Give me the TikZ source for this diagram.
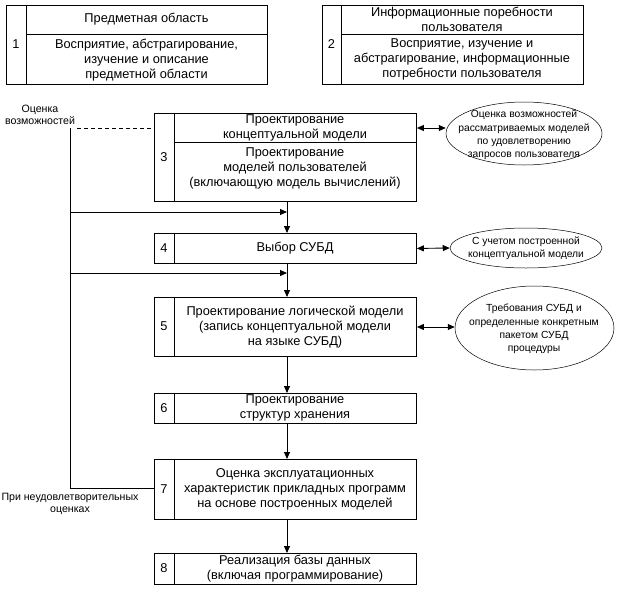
\documentclass[tikz,border=0pt]{standalone}
\usepackage{fontspec}
\setmainfont{Liberation Sans}
\usetikzlibrary{arrows.meta,shapes.geometric,calc}
\begin{document}
\begin{tikzpicture}[x=1pt,y=-1pt,
  box/.style={draw, line width=0.9pt, inner sep=0pt, anchor=north west},
  divl/.style={line width=0.9pt},
  txt/.style={align=center, font=\fontsize{12.8}{15}\selectfont, inner sep=0pt},
  num/.style={font=\fontsize{12.8}{15}\selectfont, inner sep=0pt},
  small/.style={align=center, font=\fontsize{10.3}{13.4}\selectfont, inner sep=0pt},
  lbl/.style={align=center, font=\fontsize{10.6}{12}\selectfont, inner sep=0pt},
  ell/.style={ellipse, draw, line width=0.5pt, inner sep=0pt},
  arr/.style={line width=0.9pt, -{Triangle[length=7pt,width=6pt]}},
  biarr/.style={line width=0.9pt, {Triangle[length=7pt,width=6pt]}-{Triangle[length=7pt,width=6pt]}},
  ln/.style={line width=0.9pt}]
\useasboundingbox (0,0) rectangle (619,592);

% Box 1
\node[box, minimum width=261pt, minimum height=79pt] (b1) at (6,5) {};
\draw[divl] (26,5) -- (26,84);
\draw[divl] (26,34) -- (267,34);
\node[num] (n1) at (16,44.5) {1};
\node[txt] (t1a) at (146.5,19.5) {Предметная область};
\node[txt] (t1b) at (146.5,60) {Восприятие, абстрагирование,\\изучение и описание\\предметной области};

% Box 2
\node[box, minimum width=261pt, minimum height=79pt] (b2) at (322,5) {};
\draw[divl] (341,5) -- (341,84);
\draw[divl] (341,34) -- (583,34);
\node[num] (n2) at (331.5,44.5) {2};
\node[txt] (t2a) at (462,19.5) {Информационные поребности\\пользователя};
\node[txt] (t2b) at (462,59.5) {Восприятие, изучение и\\абстрагирование, информационные\\потребности пользователя};

% Box 3
\node[box, minimum width=262pt, minimum height=88pt] (b3) at (154,113) {};
\draw[divl] (174,113) -- (174,201);
\draw[divl] (174,142) -- (416,142);
\node[num] (n3) at (164,157) {3};
\node[txt] (t3a) at (295,127.5) {Проектирование\\концептуальной модели};
\node[txt] (t3b) at (295,168) {Проектирование\\моделей пользователей\\(включающую модель вычислений)};

% Box 4
\node[box, minimum width=262pt, minimum height=30pt] (b4) at (154,233) {};
\draw[divl] (174,233) -- (174,263);
\node[num] (n4) at (164,248) {4};
\node[txt] (t4) at (295,248) {Выбор СУБД};

% Box 5
\node[box, minimum width=262pt, minimum height=59pt] (b5) at (154,297) {};
\draw[divl] (174,297) -- (174,356);
\node[num] (n5) at (164,326.5) {5};
\node[txt] (t5) at (295,327) {Проектирование логической модели\\(запись концептуальной модели\\на языке СУБД)};

% Box 6
\node[box, minimum width=262pt, minimum height=30pt] (b6) at (154,393) {};
\draw[divl] (174,393) -- (174,423);
\node[num] (n6) at (164,408) {6};
\node[txt] (t6) at (295,408) {Проектирование\\структур хранения};

% Box 7
\node[box, minimum width=262pt, minimum height=60pt] (b7) at (154,459) {};
\draw[divl] (174,459) -- (174,519);
\node[num] (n7) at (164,489) {7};
\node[txt] (t7) at (295,489) {Оценка эксплуатационных\\характеристик прикладных программ\\на основе построенных моделей};

% Box 8
\node[box, minimum width=262pt, minimum height=31pt] (b8) at (154,553) {};
\draw[divl] (174,553) -- (174,584);
\node[num] (n8) at (164,568.5) {8};
\node[txt] (t8) at (295,568.5) {Реализация базы данных\\(включая программирование)};

% Ellipses
\node[ell, minimum width=156pt, minimum height=63pt] (e1) at (524,133.5) {};
\node[small] (te1) at (524,135) {Оценка возможностей\\рассматриваемых моделей\\по удовлетворению\\запросов пользователя};
\node[ell, minimum width=152pt, minimum height=40pt] (e2) at (526,248) {};
\node[small] (te2) at (526,248.5) {С учетом построенной\\концептуальной модели};
\node[ell, minimum width=159pt, minimum height=84pt] (e3) at (534.5,328) {};
\node[small] (te3) at (534,329) {Требования СУБД и\\определенные конкретным\\пакетом СУБД\\процедуры};

% Bidirectional connectors
\draw[biarr] (b3.east |- 0,128) -- (e1.west |- 0,128);
\draw[biarr] (b4.east) -- (e2.west);
\draw[biarr] (b5.east |- 0,327) -- (e3.west |- 0,327);

% Vertical flow
\coordinate (ax) at (287,0);
\draw[arr] (b3.south -| ax) -- (b4.north -| ax);
\draw[arr] (b4.south -| ax) -- (b5.north -| ax);
\draw[arr] (b5.south -| ax) -- (b6.north -| ax);
\draw[arr] (b6.south -| ax) -- (b7.north -| ax);
\draw[arr] (b7.south -| ax) -- (b8.north -| ax);

% Left labels and feedback
\node[lbl] (lo) at (40,114.5) {Оценка\\возможностей};
\node[lbl] (lp) at (70,504) {При неудовлетворительных\\оценках};
\coordinate (fb) at (70,128);
\coordinate (fbb) at (70,488);
\draw[ln, dashed, dash pattern=on 4pt off 3pt] (77,128) -- (b3.west |- 0,128);
\draw[ln] (fb) -- (fbb) -- (b7.west |- fbb);
\draw[arr] (70,212) -- (287,212);
\draw[arr] (70,273) -- (287,273);
\end{tikzpicture}
\end{document}
